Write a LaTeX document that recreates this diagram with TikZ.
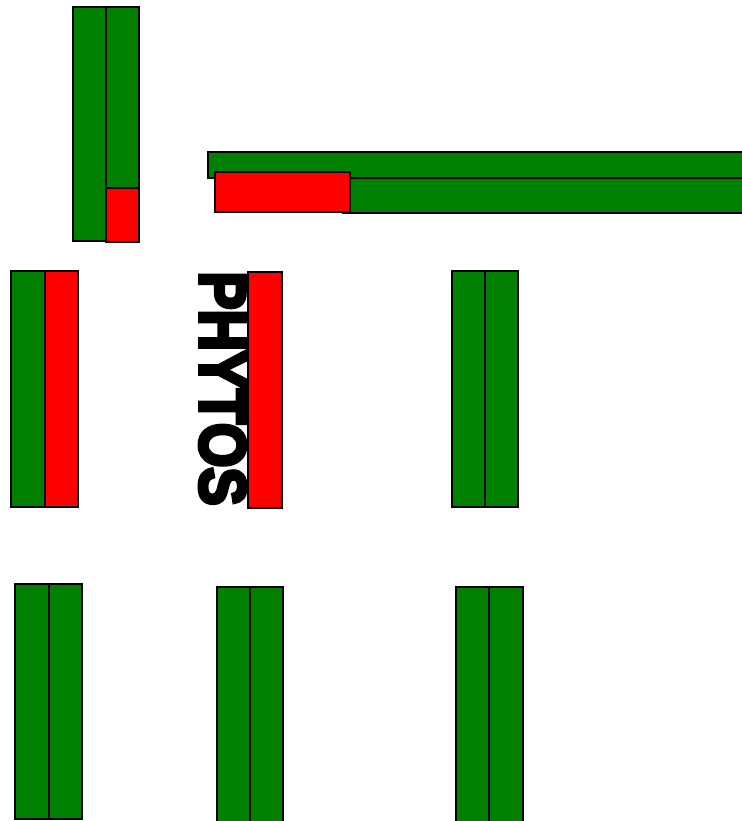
\documentclass[tikz,border=0pt]{standalone}
\usepackage{fontspec}
\setmainfont{Liberation Sans}
\newfontfamily\heavyfont{Liberation Sans Bold}[FakeBold=6]
\definecolor{leafgreen}{HTML}{008000}
\definecolor{purered}{HTML}{FF0000}
\tikzset{
  bar/.style={draw=black, line width=1.6pt, inner sep=0pt, outer sep=0pt, rectangle},
  gbar/.style={bar, fill=leafgreen},
  rbar/.style={bar, fill=purered},
}
\begin{document}
\begin{tikzpicture}[x=1pt,y=-1pt]
\useasboundingbox (0,0) rectangle (741,821);
% top-left pair
\node[gbar, minimum width=33pt, minimum height=234pt] (tl1) at (89.5,124) {};
\node[gbar, minimum width=33pt, minimum height=181pt] (tl2) at (122.5,97.5) {};
\node[rbar, minimum width=33pt, minimum height=54pt] (tl3) at (122.5,215) {};
% horizontal group
\node[gbar, minimum width=537pt, minimum height=26pt] (h1) at (476.5,165) {};
\node[gbar, minimum width=402pt, minimum height=35pt] (h2) at (544,195.5) {};
\node[rbar, minimum width=135pt, minimum height=40pt] (h3) at (282.5,192) {};
% middle row
\node[gbar, minimum width=34pt, minimum height=236pt] (m1) at (28,389) {};
\node[rbar, minimum width=33pt, minimum height=236pt] (m2) at (61.5,389) {};
\node[inner sep=0pt, rotate=-90, font=\fontsize{65}{65}\selectfont\heavyfont] (txt) at (222.5,388.5) {\scalebox{0.88}[1]{PHYTOS}};
\node[rbar, minimum width=34pt, minimum height=236pt] (m3) at (265,390) {};
\node[gbar, minimum width=33pt, minimum height=236pt] (m4) at (468.5,389) {};
\node[gbar, minimum width=33pt, minimum height=236pt] (m5) at (501.5,389) {};
% bottom row
\node[gbar, minimum width=34pt, minimum height=235pt] (b1) at (32,701.5) {};
\node[gbar, minimum width=33pt, minimum height=235pt] (b2) at (65.5,701.5) {};
\node[gbar, minimum width=33pt, minimum height=238pt] (b3) at (233.5,706) {};
\node[gbar, minimum width=33pt, minimum height=238pt] (b4) at (266.5,706) {};
\node[gbar, minimum width=33pt, minimum height=238pt] (b5) at (472.5,706) {};
\node[gbar, minimum width=34pt, minimum height=238pt] (b6) at (506,706) {};
\end{tikzpicture}
\end{document}
